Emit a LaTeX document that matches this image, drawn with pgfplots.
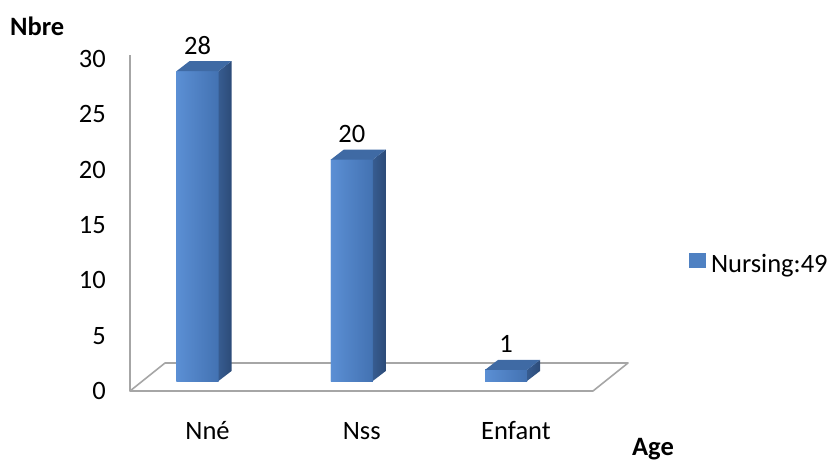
\documentclass[border=0pt]{standalone}
\usepackage{fontspec}
\setmainfont{Carlito}
\usepackage{pgfplots}
\usepackage{pgfplotstable}
\pgfplotsset{compat=1.18}

\definecolor{barfront}{HTML}{4F81C2}
\definecolor{barlight}{HTML}{5B8FD4}
\definecolor{bardark}{HTML}{4372B2}
\definecolor{barside}{HTML}{375C90}
\definecolor{barsidedark}{HTML}{2C4B78}
\definecolor{bartop}{HTML}{3F6AA4}
\definecolor{floorline}{HTML}{A6A6A6}

% Number of cases per age group
\pgfplotstableread{
pos count
0   28
1   20
2   1
}\agedata

% axis box size and value range, shared by the axis and the column faces
\def\axisH{332}
\def\axisYmax{30}

% an empty plot mark: the scatter code below draws the 3-D faces itself
\pgfdeclareplotmark{nothing}{}

\begin{document}
\fontsize{26.5}{31}\selectfont
\begin{tikzpicture}
\useasboundingbox (0,0) rectangle (828pt,459pt);
\begin{axis}[
  at={(130pt,68pt)}, anchor=south west,
  scale only axis, width=463pt, height=\axisH pt,
  xmin=-0.4376, xmax=2.564, ymin=0, ymax=\axisYmax,
  axis line style={draw=none},
  major tick length=0pt,
  xtick={0,1,2}, xticklabels={Nné,Nss,Enfant},
  xticklabel style={anchor=base, inner sep=0pt, xshift=10pt, yshift=-48pt},
  ytick={0,5,...,30},
  yticklabel style={anchor=east, inner sep=0pt, xshift=-24pt},
  /pgf/number format/assume math mode=true,
  clip=false,
  legend style={at={(axis description cs:1.207,0.381)}, anchor=west,
    draw=none, fill=none, inner sep=0pt,
    nodes={inner sep=0pt},
    /tikz/every odd column/.append style={column sep=5pt}},
  extra description/.code={
    \node[anchor=base west, inner sep=0pt] at (axis description cs:-0.2592,1.0723) {\bfseries Nbre};
    \node[anchor=base west, inner sep=0pt] at (axis description cs:1.0842,-0.1928) {\bfseries Age};
  },
]
% floor and left edge of the chart box
\fill[white] (rel axis cs:0,0) -- (rel axis cs:1,0)
  -- ([shift={(35pt,28pt)}]rel axis cs:1,0)
  -- ([shift={(35pt,28pt)}]rel axis cs:0,0) -- cycle;
\draw[floorline, line width=1.6pt, line join=round]
  (rel axis cs:0,0) -- (rel axis cs:1,0)
  -- ([shift={(35pt,28pt)}]rel axis cs:1,0)
  -- ([shift={(35pt,28pt)}]rel axis cs:0,0) -- cycle;
\draw[floorline, line width=1.6pt] (rel axis cs:0,0) -- ([yshift=4pt]rel axis cs:0,1);

% front faces of the columns
\addplot[ybar, bar width=42pt, bar shift=0pt, fill=barfront, draw=none, yshift=10pt,
  nodes near coords,
  every node near coord/.append style={anchor=base, inner sep=0pt, yshift=17pt, text=black},
  legend image code/.code={\fill[barfront, draw=none] (0pt,-13pt) rectangle (17pt,2pt);},
] table[x=pos, y=count] {\agedata};
\addlegendentry{Nursing:49}

% shading, side and top faces of the columns
\addplot[forget plot, scatter, only marks, mark=nothing, draw=none, yshift=10pt,
  visualization depends on={\thisrow{count} \as \barval},
  scatter/@pre marker code/.code={
    \pgfmathsetmacro\h{\barval*\axisH/\axisYmax}
    \pgfmathsetmacro\hb{10-\h}
    \shade[draw=none, left color=barlight, right color=bardark] (-21pt,-\h pt) rectangle (21pt,0pt);
    \shade[draw=none, left color=barside, right color=barsidedark]
      (21pt,0pt) -- (34pt,10pt) -- (34pt,\hb pt) -- (21pt,-\h pt) -- cycle;
    \fill[draw=none, bartop] (-21pt,0pt) -- (21pt,0pt) -- (34pt,10pt) -- (-8pt,10pt) -- cycle;
  },
  scatter/@post marker code/.code={},
] table[x=pos, y=count] {\agedata};
\end{axis}
\end{tikzpicture}
\end{document}
